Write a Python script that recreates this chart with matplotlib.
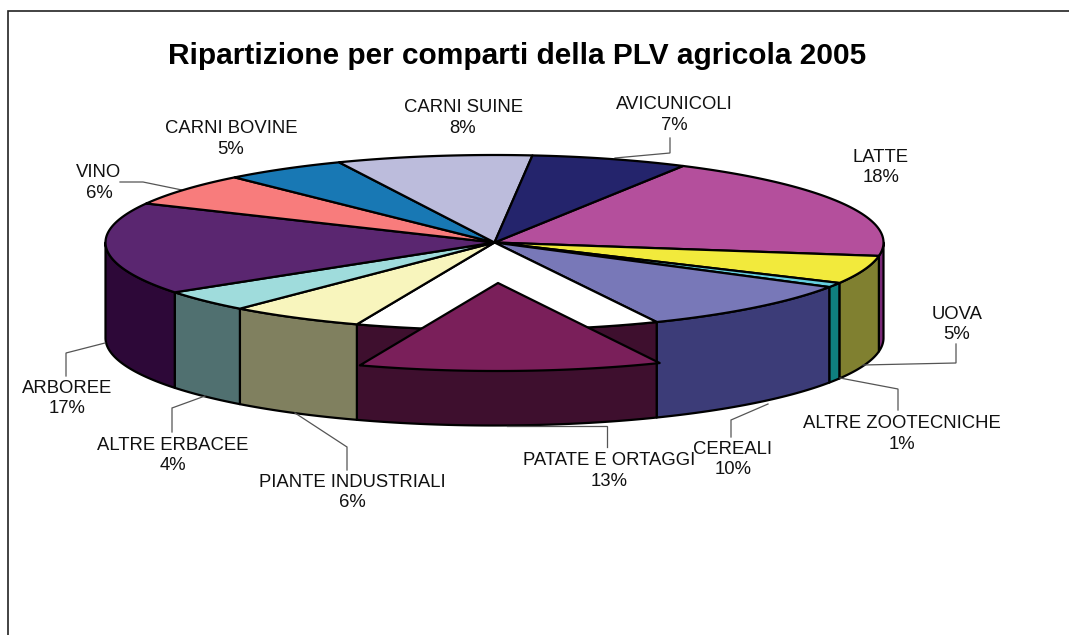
import numpy as np
import matplotlib
matplotlib.use("Agg")
import matplotlib.pyplot as plt
from matplotlib.patches import Polygon

title = "Ripartizione per comparti della PLV agricola 2005"
categories = ["LATTE", "UOVA", "ALTRE ZOOTECNICHE", "CEREALI", "PATATE E ORTAGGI",
              "PIANTE INDUSTRIALI", "ALTRE ERBACEE", "ARBOREE", "VINO",
              "CARNI BOVINE", "CARNI SUINE", "AVICUNICOLI"]
percent_labels = ["18%", "5%", "1%", "10%", "13%", "6%", "4%", "17%", "6%", "5%", "8%", "7%"]
# slice sizes as they appear in the picture
shares = [19.4, 5.2, 0.85, 9.65, 12.6, 5.6, 4.0, 17.0, 6.0, 5.1, 8.1, 6.5]
top_colors = ["#B44F9C", "#F2EA3C", "#66D0E0", "#7878B8", "#7A1F5A", "#F8F5BD",
              "#9FDCDC", "#5A2670", "#F87C7C", "#1878B4", "#BCBCDC", "#24246C"]
wall_colors = ["#7A2A78", "#808030", "#0F7F7F", "#3C3C78", "#3E0F2E", "#80805F",
               "#507070", "#2D0838", "#7C3E3E", "#0C3C5A", "#5E5E6E", "#121236"]
label_pos = [(881, 167.5), (957, 324.5), (902, 434), (733, 459.5), (609, 471), (352, 492.5),
             (173, 455.5), (67, 398.5), (99, 183), (231, 139), (463, 118), (674, 115)]
leaders = [[(615, 158), (670, 153), (670, 138)],
           [(863, 365), (956, 363), (956, 344)],
           [(840, 378), (898, 389), (898, 410)],
           [(768, 404), (731, 420), (731, 437)],
           [(507, 426), (607, 426), (607, 447)],
           [(295, 413), (347, 447), (347, 470)],
           [(205, 396), (172, 408), (172, 432)],
           [(105, 343), (66, 353), (66, 376)],
           [(120, 182), (143, 182), (182, 190)]]

START = 29.0
CX, CY, RX, RY, DEPTH = 494.5, 242.5, 389.0, 87.5, 95.5
EXPLODED = 4
EX_ARC = (3.0, 41.0)
EX_TIP = (3.5, 40.5)
EDGE = dict(edgecolor="black", linewidth=1.6, joinstyle="round")

fig = plt.figure(figsize=(10.69, 6.35), dpi=100, facecolor="white")
ax = fig.add_axes([0, 0, 1, 1])
ax.set_xlim(0, 1069)
ax.set_ylim(635, 0)
ax.axis("off")

plt.rcParams["font.family"] = ["Liberation Sans", "DejaVu Sans"]


def rim(a0, a1, dx=0.0, dy=0.0):
    t = np.radians(np.linspace(a0, a1, max(int(abs(a1 - a0) * 2), 2)))
    return np.column_stack((CX + RX * np.sin(t) + dx, CY - RY * np.cos(t) + dy))


bounds = START + np.concatenate(([0], np.cumsum(shares))) / np.sum(shares) * 360.0

# side walls, back to front
for i in range(len(shares)):
    lo = max(bounds[i], 90.0)
    hi = min(bounds[i + 1], 270.0)
    if hi > lo:
        top = rim(lo, hi)
        bottom = rim(hi, lo, dy=DEPTH)
        ax.add_patch(Polygon(np.vstack((top, bottom)), closed=True,
                             facecolor=wall_colors[i], **EDGE))

# top faces
for i in range(len(shares)):
    arc = rim(bounds[i], bounds[i + 1])
    pts = np.vstack(([(CX, CY)], arc))
    face = "white" if i == EXPLODED else top_colors[i]
    ax.add_patch(Polygon(pts, closed=True, facecolor=face, zorder=3, **EDGE))

# exploded slice
arc = rim(bounds[EXPLODED], bounds[EXPLODED + 1], *EX_ARC)
pts = np.vstack(([(CX + EX_TIP[0], CY + EX_TIP[1])], arc))
ax.add_patch(Polygon(pts, closed=True, facecolor=top_colors[EXPLODED], zorder=4, **EDGE))

# leaders
for path in leaders:
    xs, ys = zip(*path)
    ax.plot(xs, ys, color="#555555", lw=0.9, zorder=2, solid_joinstyle="miter")

# labels
for name, pct, (x, y) in zip(categories, percent_labels, label_pos):
    ax.text(x, y, f"{name}\n{pct}", ha="center", va="center", fontsize=13.3,
            color="#111111", linespacing=1.27, zorder=5)

ax.text(517, 56, title, ha="center", va="center", fontsize=21.5, fontweight="bold",
        color="black", zorder=5)

# outer frame
ax.plot([8, 8, 1069], [635, 10.5, 10.5], color="#222222", lw=1.2, zorder=1,
        solid_joinstyle="miter")

fig.savefig("out.png", dpi=100)
